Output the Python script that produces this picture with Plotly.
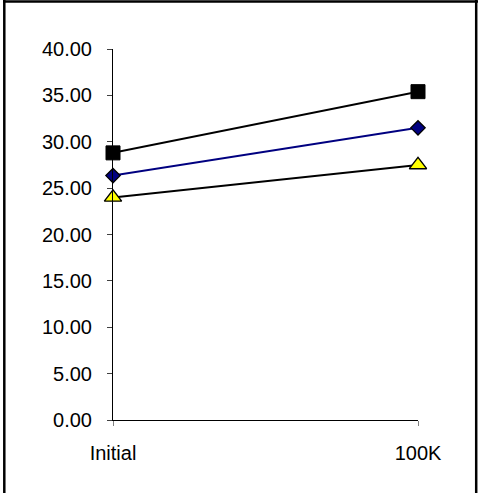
import plotly.graph_objects as go

categories = ["Initial", "100K"]
series_square = [28.8, 35.4]
series_diamond = [26.35, 31.5]
series_triangle = [24.0, 27.5]
y_ticks = [0, 5, 10, 15, 20, 25, 30, 35, 40]
y_tick_labels = [f"{v:.2f}" for v in y_ticks]

FONT = "Arial, Liberation Sans, sans-serif"

fig = go.Figure()
fig.add_trace(go.Scatter(
    x=categories, y=series_square, mode="lines+markers",
    line=dict(color="black", width=2),
    marker=dict(symbol="square", size=14, color="black", line=dict(color="black", width=1)),
    cliponaxis=False, showlegend=False))
fig.add_trace(go.Scatter(
    x=categories, y=series_diamond, mode="lines+markers",
    line=dict(color="#000080", width=2),
    marker=dict(symbol="diamond", size=11, color="#000080", line=dict(color="black", width=1.3)),
    cliponaxis=False, showlegend=False))
fig.add_trace(go.Scatter(
    x=categories, y=series_triangle, mode="lines+markers",
    line=dict(color="black", width=2),
    marker=dict(symbol="triangle-up", size=15, color="#FFFF00", line=dict(color="black", width=1.4)),
    cliponaxis=False, showlegend=False))

# plot area: x 113..418, y 49..420
L, R, T, B = 113, 60, 49, 73
W, H = 478, 493
pw, ph = W - L - R, H - T - B

def px_to_paper_x(px):
    return (px - L) / pw

def px_to_paper_y(py):
    return (H - B - py) / ph

border = dict(color="black", width=2.5)
# top, left, right edges of the outer frame
fig.add_shape(type="line", xref="paper", yref="paper",
              x0=px_to_paper_x(3), x1=px_to_paper_x(478),
              y0=px_to_paper_y(1.4), y1=px_to_paper_y(1.4), line=border, layer="above")
fig.add_shape(type="line", xref="paper", yref="paper",
              x0=px_to_paper_x(4.3), x1=px_to_paper_x(4.3),
              y0=px_to_paper_y(0), y1=px_to_paper_y(493), line=border, layer="above")
fig.add_shape(type="line", xref="paper", yref="paper",
              x0=px_to_paper_x(476.2), x1=px_to_paper_x(476.2),
              y0=px_to_paper_y(0), y1=px_to_paper_y(493), line=border, layer="above")

fig.update_layout(
    width=W, height=H,
    margin=dict(l=L, r=R, t=T, b=B, pad=0),
    paper_bgcolor="white", plot_bgcolor="white",
    font=dict(family=FONT, size=20, color="black"),
    xaxis=dict(type="category", range=[0, 1], showline=True, linecolor="black", linewidth=1,
               ticks="outside", ticklen=5, tickcolor="#808080", tickwidth=1,
               showgrid=False, zeroline=False, ticklabelstandoff=10,
               tickfont=dict(family=FONT, size=20, color="black")),
    yaxis=dict(range=[0, 40], tickvals=y_ticks, ticktext=y_tick_labels,
               showline=True, linecolor="black", linewidth=1,
               ticks="outside", ticklen=5, tickcolor="#404040", tickwidth=1,
               showgrid=False, zeroline=False, ticklabelstandoff=11,
               tickfont=dict(family=FONT, size=20, color="black")),
)

fig.write_html("out.html", config={"displayModeBar": False},
               post_script="document.body.style.margin='0';")
